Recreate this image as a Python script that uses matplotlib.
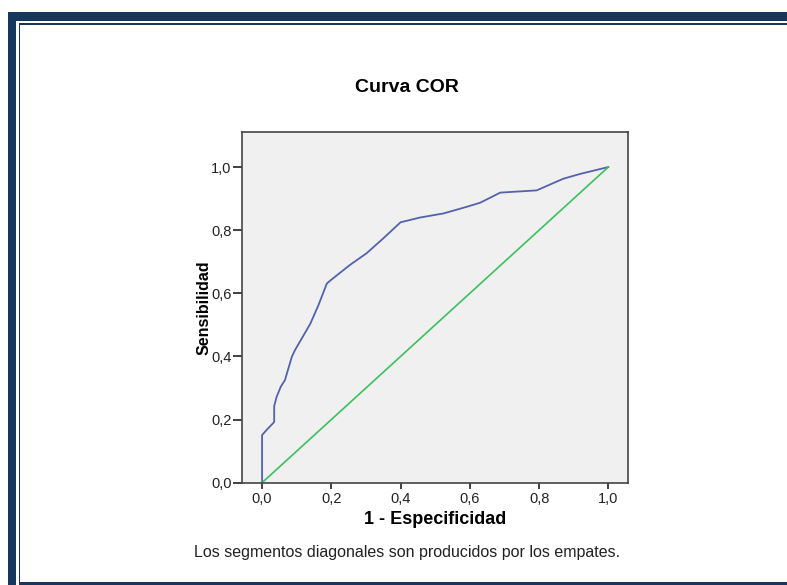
import matplotlib
matplotlib.use("Agg")
import matplotlib.pyplot as plt
from matplotlib.patches import Rectangle

plt.rcParams['font.family'] = ['Liberation Sans', 'DejaVu Sans']

# ROC curve
fpr = [0.0, 0.0, 0.013, 0.033, 0.035, 0.035, 0.042, 0.054, 0.066, 0.086, 0.095,
       0.139, 0.163, 0.187, 0.201, 0.254, 0.302, 0.350, 0.400, 0.456, 0.524,
       0.591, 0.630, 0.688, 0.793, 0.870, 0.918, 1.0]
tpr = [0.0, 0.151, 0.167, 0.190, 0.193, 0.243, 0.272, 0.304, 0.325, 0.399, 0.420,
       0.503, 0.563, 0.631, 0.644, 0.690, 0.727, 0.774, 0.825, 0.840, 0.853,
       0.874, 0.887, 0.919, 0.926, 0.963, 0.978, 1.0]
ref_x = [0.0, 1.0]
ref_y = [0.0, 1.0]
ticks = [0.0, 0.2, 0.4, 0.6, 0.8, 1.0]
tick_labels = ["0,0", "0,2", "0,4", "0,6", "0,8", "1,0"]

W, H = 787, 585
fig = plt.figure(figsize=(W / 100, H / 100), dpi=100)
fig.patch.set_facecolor("white")

navy = "#17365d"

def box(x0, y0, x1, y1):
    # pixel coords (top-left origin) -> figure rectangle
    fig.patches.append(Rectangle((x0 / W, 1 - y1 / H), (x1 - x0) / W, (y1 - y0) / H,
                                 transform=fig.transFigure, color=navy, lw=0, zorder=0))

box(8, 12, W, 21)
box(8, 12, 16, H)
box(19, 23, W, 24.5)
box(18.5, 23, 20, H)
box(19, 582, W, H)

ax = fig.add_axes([242 / W, 1 - 482.7 / H, (627.7 - 242) / W, (482.7 - 132) / H])
ax.set_facecolor("#f0f0f0")
ax.plot(fpr, tpr, color="#5262ab", lw=1.3)
ax.plot(ref_x, ref_y, color="#3dbf5c", lw=1.2)
ax.set_xlim(-0.058, 1.056)
ax.set_ylim(0, 1.111)
ax.set_xticks(ticks)
ax.set_xticklabels(tick_labels, fontsize=10.5, color="#222222")
ax.set_yticks(ticks)
ax.set_yticklabels(tick_labels, fontsize=10.5, color="#222222")
ax.tick_params(axis="x", length=4.5, width=1.3, color="#333333", pad=2.5)
ax.tick_params(axis="y", length=6.5, width=1.3, color="#333333", pad=1)
for s in ax.spines.values():
    s.set_color("#444444")
    s.set_linewidth(1.2)

ax.set_ylabel("Sensibilidad", fontsize=11.5, fontweight="bold", labelpad=0)

fig.text(407 / W, 1 - 87 / H, "Curva COR", ha="center", va="center",
         fontsize=14, fontweight="bold")
fig.text(435.5 / W, 1 - 520 / H, "1 - Especificidad", ha="center", va="center",
         fontsize=13, fontweight="bold")
fig.text(407 / W, 1 - 553 / H, "Los segmentos diagonales son producidos por los empates.",
         ha="center", va="center", fontsize=11.5, color="#222222")

fig.savefig("out.png", dpi=100)
